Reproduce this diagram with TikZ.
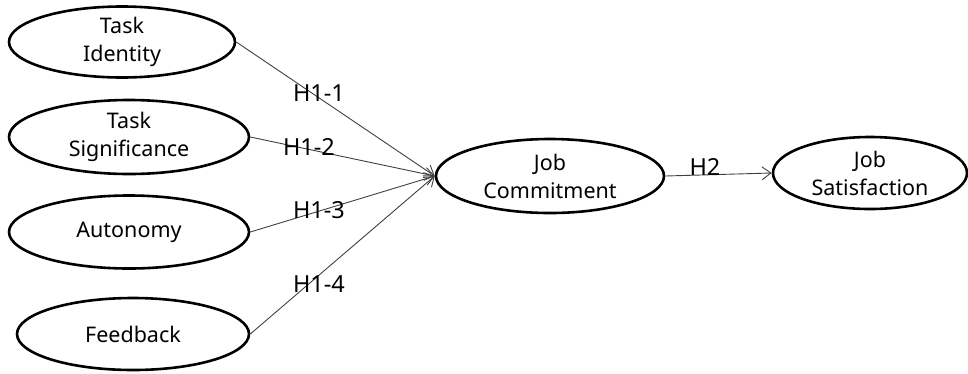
\documentclass[tikz,border=0pt]{standalone}
\usepackage{fontspec}
\setmainfont{Noto Sans}
\usetikzlibrary{shapes.geometric,arrows.meta}
\begin{document}
\begin{tikzpicture}[x=1pt,y=-1pt,
  construct/.style={ellipse,draw=black,line width=2.6pt,inner sep=0pt,
    align=center,font=\fontsize{21.5}{28}\selectfont},
  path/.style={draw=black!75,line width=0.9pt,-{Straight Barb[length=9pt,width=13pt,line width=0.9pt]}},
  hyp/.style={font=\fontsize{23.5}{26}\selectfont,anchor=base,inner sep=0pt}]
\useasboundingbox (0,0) rectangle (968,373);
% exogenous constructs
\node[construct,minimum width=226pt,minimum height=71pt] (ti) at (122,42) {Task\\Identity};
\node[construct,minimum width=240pt,minimum height=74pt] (ts) at (129,137) {Task\\Significance};
\node[construct,minimum width=240pt,minimum height=73pt] (au) at (129,232) {Autonomy};
\node[construct,minimum width=232pt,minimum height=72pt] (fb) at (133,334) {Feedback};
% mediator and outcome
\node[construct,minimum width=228pt,minimum height=74pt] (jc) at (550,176) {Job\\Commitment};
\node[construct,minimum width=194pt,minimum height=72pt] (js) at (870,173) {Job\\Satisfaction};
% hypothesised paths
\draw[path] (ti.east) -- (jc.west);
\draw[path] (ts.east) -- (jc.west);
\draw[path] (au.east) -- (jc.west);
\draw[path] (fb.east) -- (jc.west);
\draw[path] (jc.east) -- (js.west);
% path labels
\node[hyp] (h11) at (319,101) {H1-1};
\node[hyp] (h12) at (309,155) {H1-2};
\node[hyp] (h13) at (319,218) {H1-3};
\node[hyp] (h14) at (319,292) {H1-4};
\node[hyp] (h2) at (705,175) {H2};
\end{tikzpicture}
\end{document}
